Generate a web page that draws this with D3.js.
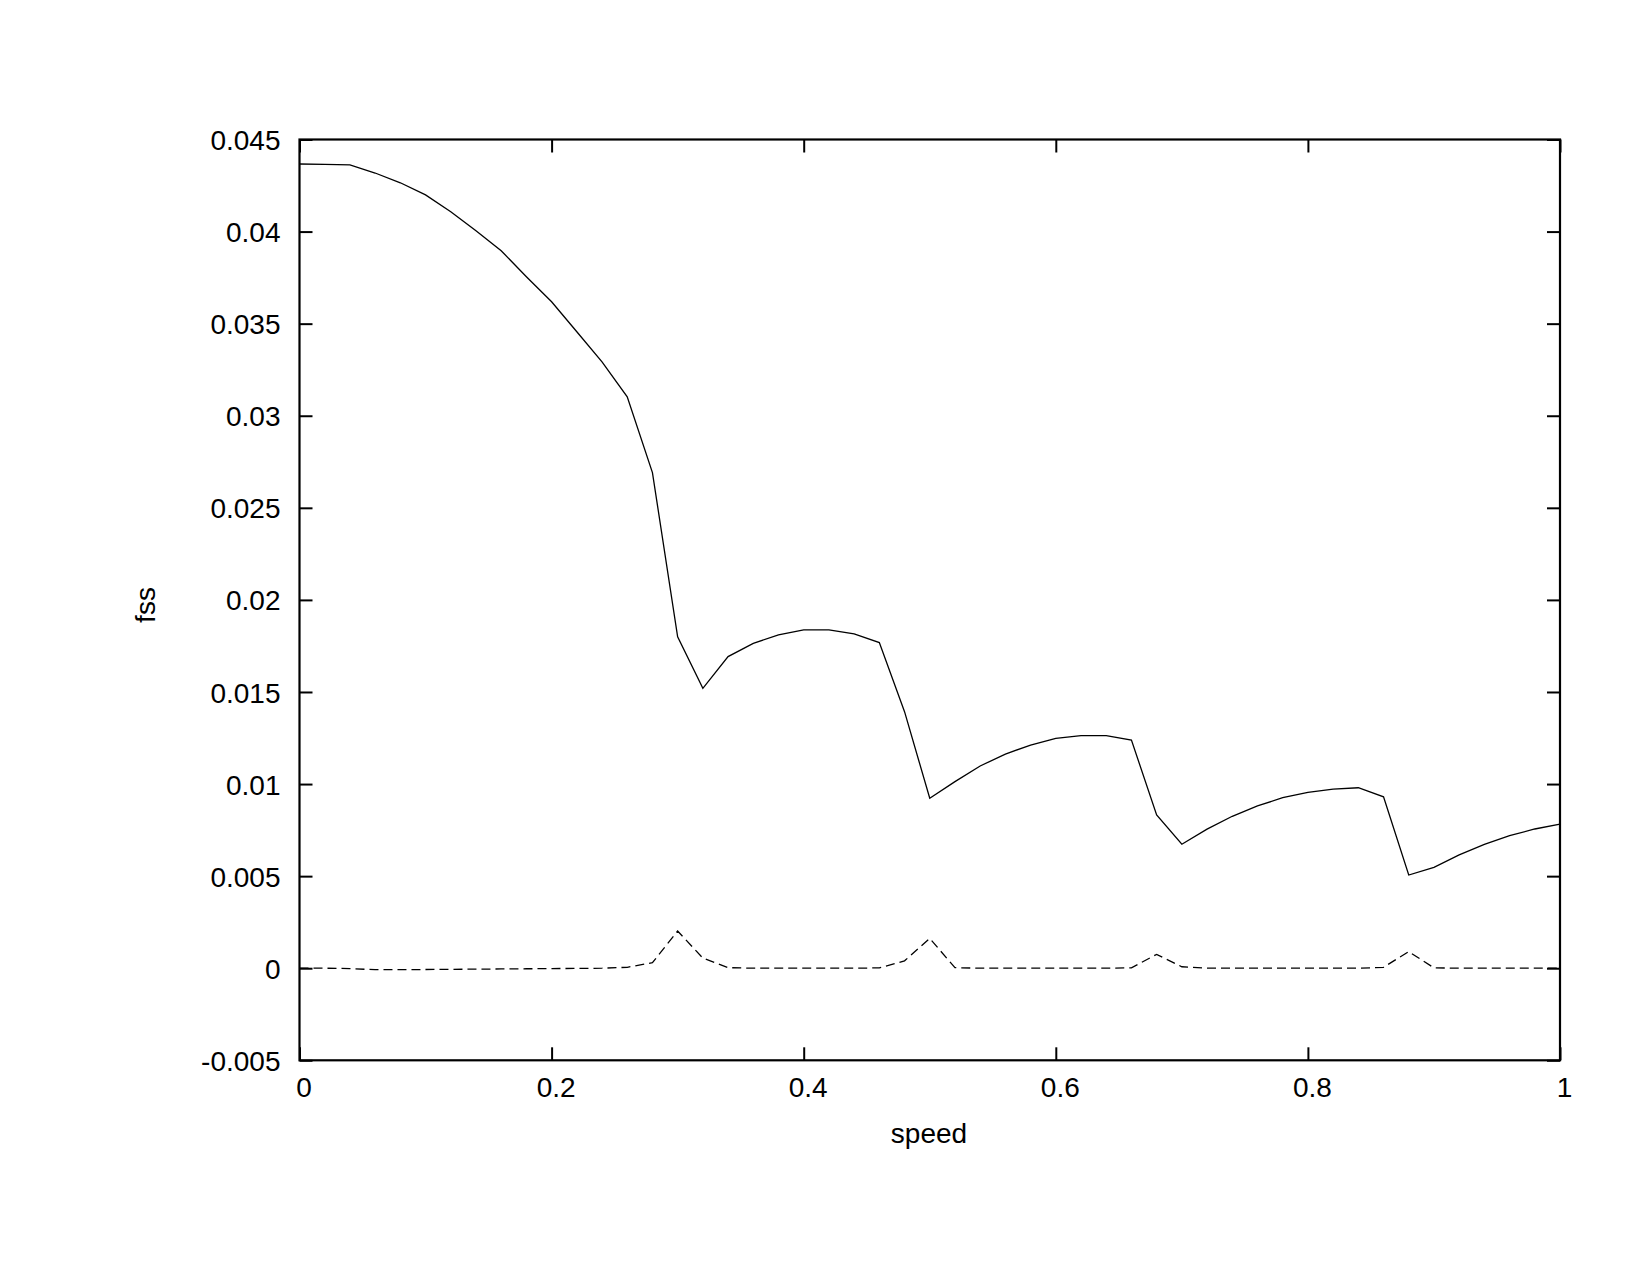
<!DOCTYPE html>
<html>
<head>
<meta charset="utf-8">
<script src="https://cdn.jsdelivr.net/npm/d3@7"></script>
<style>
  html, body { margin: 0; padding: 0; background: #fff; }
  svg { display: block; }
  text { font-family: "Liberation Sans", Arial, Helvetica, sans-serif; fill: #000; }
</style>
</head>
<body>
<script>
// ---- data ----
const speed = d3.range(0, 51).map(i => +(i * 0.02).toFixed(2));
const fssSolid = [
  0.04367, 0.04365, 0.04362, 0.04318, 0.04265, 0.04199, 0.04108, 0.04005, 0.03896, 0.03755,
  0.03619, 0.03456, 0.03293, 0.03103, 0.02691, 0.01800, 0.01520, 0.01692, 0.01764, 0.01810,
  0.01837, 0.01837, 0.01815, 0.01768, 0.01393, 0.00923, 0.01013, 0.01098, 0.01163, 0.01212,
  0.01248, 0.01263, 0.01263, 0.01239, 0.00832, 0.00673, 0.00755, 0.00825, 0.00881, 0.00926,
  0.00955, 0.00973, 0.00980, 0.00931, 0.00506, 0.00548, 0.00615, 0.00673, 0.00720, 0.00756,
  0.00783
];
const fssDashed = [
  0.00000, 0.00000, -0.00002, -0.00008, -0.00008, -0.00007, -0.00006, -0.00005, -0.00004, -0.00003,
  -0.00002, -0.00001, 0.00000, 0.00005, 0.00030, 0.00202, 0.00055, 0.00003, 0.00000, 0.00000,
  0.00000, 0.00000, 0.00000, 0.00002, 0.00040, 0.00162, 0.00003, 0.00000, 0.00000, 0.00000,
  0.00000, 0.00000, 0.00000, 0.00002, 0.00075, 0.00008, 0.00000, 0.00000, 0.00000, 0.00000,
  0.00000, 0.00000, 0.00000, 0.00005, 0.00090, 0.00002, 0.00000, 0.00000, 0.00000, 0.00000,
  0.00000
];
const xTicks = [0, 0.2, 0.4, 0.6, 0.8, 1];
const xTickLabels = ["0", "0.2", "0.4", "0.6", "0.8", "1"];
const yTicks = [-0.005, 0, 0.005, 0.01, 0.015, 0.02, 0.025, 0.03, 0.035, 0.04, 0.045];
const yTickLabels = ["-0.005", "0", "0.005", "0.01", "0.015", "0.02", "0.025", "0.03", "0.035", "0.04", "0.045"];
const xLabel = "speed";
const yLabel = "fss";

// ---- layout ----
const W = 1651, H = 1275;
const L = 299.5, R = 1560, T = 139.5, B = 1060.3;

const svg = d3.select("body").append("svg").attr("width", W).attr("height", H);

const x = d3.scaleLinear().domain([0, 1]).range([L, R]);
const y = d3.scaleLinear().domain([-0.005, 0.045]).range([B, T]);

const tickLen = 13;
const fs = 28;

// bottom axis
const xb = svg.append("g").attr("transform", `translate(0,${B})`)
  .call(d3.axisBottom(x).tickValues(xTicks).tickSize(-tickLen).tickPadding(17)
    .tickFormat((d, i) => xTickLabels[i]));
// top axis (mirror ticks)
const xt = svg.append("g").attr("transform", `translate(0,${T})`)
  .call(d3.axisTop(x).tickValues(xTicks).tickSize(-tickLen).tickFormat(""));
// left axis
const yl = svg.append("g").attr("transform", `translate(${L},0)`)
  .call(d3.axisLeft(y).tickValues(yTicks).tickSize(-tickLen).tickPadding(19)
    .tickFormat((d, i) => yTickLabels[i]));
// right axis
const yr = svg.append("g").attr("transform", `translate(${R},0)`)
  .call(d3.axisRight(y).tickValues(yTicks).tickSize(-tickLen).tickFormat(""));

[xb, xt, yl, yr].forEach(g => {
  g.select(".domain").remove();
  g.selectAll(".tick line").attr("stroke", "#000").attr("stroke-width", 2);
  g.selectAll(".tick text").style("font-size", fs + "px")
    .style("font-family", '"Liberation Sans", Arial, sans-serif').attr("fill", "#000");
});
xb.selectAll(".tick text").attr("dx", 4);
yl.selectAll(".tick text").attr("dy", "0.36em");

// frame
svg.append("rect").attr("x", L).attr("y", T).attr("width", R - L).attr("height", B - T)
  .attr("fill", "none").attr("stroke", "#000").attr("stroke-width", 2.2);

// lines
const line = d3.line().x(d => x(d[0])).y(d => y(d[1]));
svg.append("path")
  .datum(speed.map((s, i) => [s, fssSolid[i]]))
  .attr("d", line).attr("fill", "none").attr("stroke", "#000").attr("stroke-width", 1.3);
svg.append("path")
  .datum(speed.map((s, i) => [s, fssDashed[i]]))
  .attr("d", line).attr("fill", "none").attr("stroke", "#000").attr("stroke-width", 1.3)
  .attr("stroke-dasharray", "9,5");

// axis labels
svg.append("text").attr("x", 929).attr("y", 1143).attr("text-anchor", "middle")
  .style("font-size", fs + "px").text(xLabel);
svg.append("text").attr("transform", `translate(155,605) rotate(-90)`).attr("text-anchor", "middle")
  .style("font-size", fs + "px").text(yLabel);
</script>
</body>
</html>
